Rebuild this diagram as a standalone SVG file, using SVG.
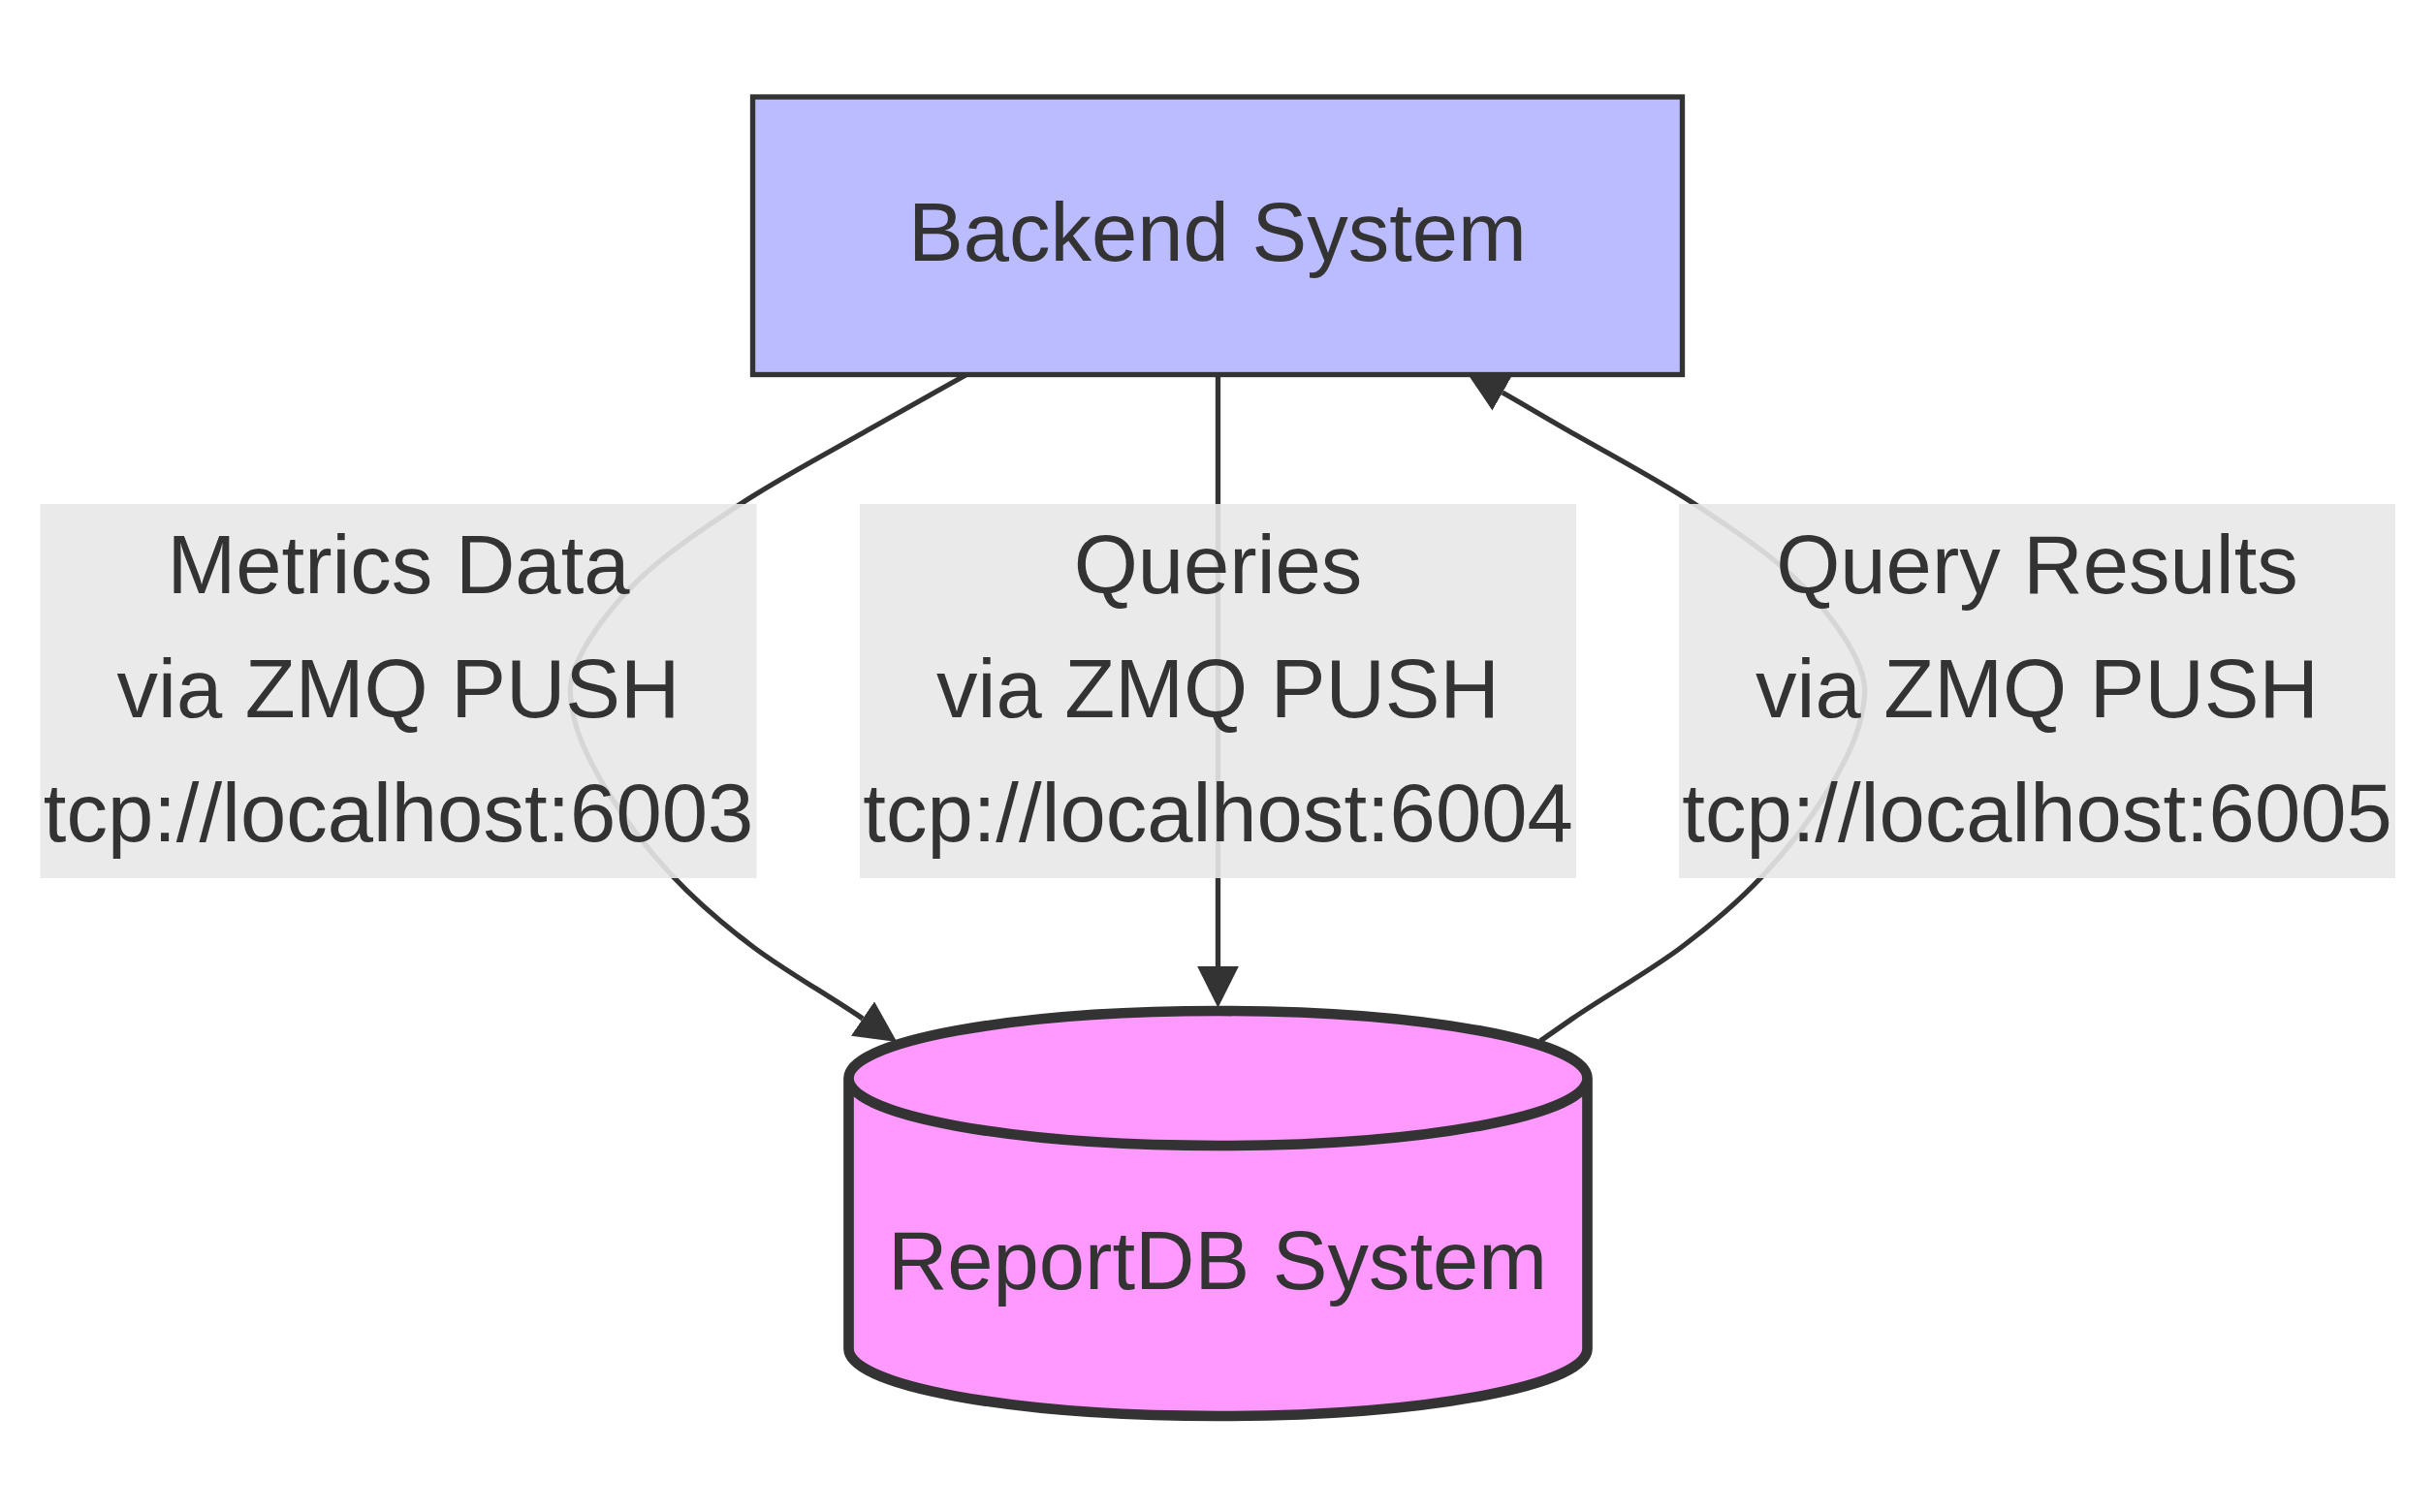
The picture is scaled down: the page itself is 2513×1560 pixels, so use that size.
<svg xmlns="http://www.w3.org/2000/svg" width="2513" height="1560" viewBox="0 0 2513 1560">
<style>
.edge{fill:none;stroke:#333;stroke-width:5.3}
.lblbg{fill:#e8e8e8;fill-opacity:0.9}
.txt{font-family:"Liberation Sans",Arial,sans-serif;font-size:85px;fill:#333;text-anchor:middle}
</style>
<defs>
<marker id="arrow" viewBox="0 0 10 10" refX="0" refY="5" markerWidth="42.7" markerHeight="42.7" markerUnits="userSpaceOnUse" orient="auto">
<path d="M0,0 L10,5 L0,10 z" fill="#333"/>
</marker>
</defs>
<rect width="2513" height="1560" fill="#fff"/>
<g id="connectors">
<path id="e1" class="edge" marker-end="url(#arrow)" d="M998,386 C963,405.7 931.5,423 893,445 C854.5,467 805.8,492.7 767,518 C728.2,543.3 688.3,570 660,597 C631.7,624 608.3,656.2 597,680 C585.7,703.8 587,717.2 592,740 C597,762.8 610.2,789.8 627,817 C643.8,844.2 668,876.3 693,903 C718,929.7 744.2,952.3 777,977 C809.8,1001.7 852.8,1025.7 890,1051"/>
<path id="e2" class="edge" marker-end="url(#arrow)" d="M1256.5,386.5 L1256.5,997"/>
<path id="e3" class="edge" marker-end="url(#arrow)" d="M1589,1074 L1622,1051 C1659.2,1025.7 1702.2,1001.7 1735,977 C1767.8,952.3 1794,929.7 1819,903 C1844,876.3 1868.2,844.2 1885,817 C1901.8,789.8 1915,762.8 1920,740 C1925,717.2 1926.3,703.8 1915,680 C1903.7,656.2 1880.3,624 1852,597 C1823.7,570 1783.8,543.3 1745,518 C1706.2,492.7 1657.5,467 1619,445 C1596,432 1573,418 1550,405"/>
</g>
<g id="edge-labels">
<g id="label-e1">
<rect class="lblbg" x="41.5" y="520" width="739" height="386"/>
<text class="txt" x="411" y="612">Metrics Data</text>
<text class="txt" x="411" y="740">via ZMQ PUSH</text>
<text class="txt" x="411" y="868">tcp://localhost:6003</text>
</g>
<g id="label-e2">
<rect class="lblbg" x="887" y="520" width="739" height="386"/>
<text class="txt" x="1256.5" y="612">Queries</text>
<text class="txt" x="1256.5" y="740">via ZMQ PUSH</text>
<text class="txt" x="1256.5" y="868">tcp://localhost:6004</text>
</g>
<g id="label-e3">
<rect class="lblbg" x="1732" y="520" width="739" height="386"/>
<text class="txt" x="2101.5" y="612">Query Results</text>
<text class="txt" x="2101.5" y="740">via ZMQ PUSH</text>
<text class="txt" x="2101.5" y="868">tcp://localhost:6005</text>
</g>
</g>
<g id="backend">
<rect x="776.5" y="100" width="959" height="286.5" fill="#bbf" stroke="#333" stroke-width="5.33"/>
<text class="txt" x="1256" y="269">Backend System</text>
</g>
<g id="reportdb">
<path d="M875.5,1112.5 a381,69.5 0 0 0 762,0 a381,69.5 0 0 0 -762,0 l0,279 a381,69.5 0 0 0 762,0 l0,-279" fill="#f9f" stroke="#333" stroke-width="10.67"/>
<text class="txt" x="1256" y="1330">ReportDB System</text>
</g>
</svg>
